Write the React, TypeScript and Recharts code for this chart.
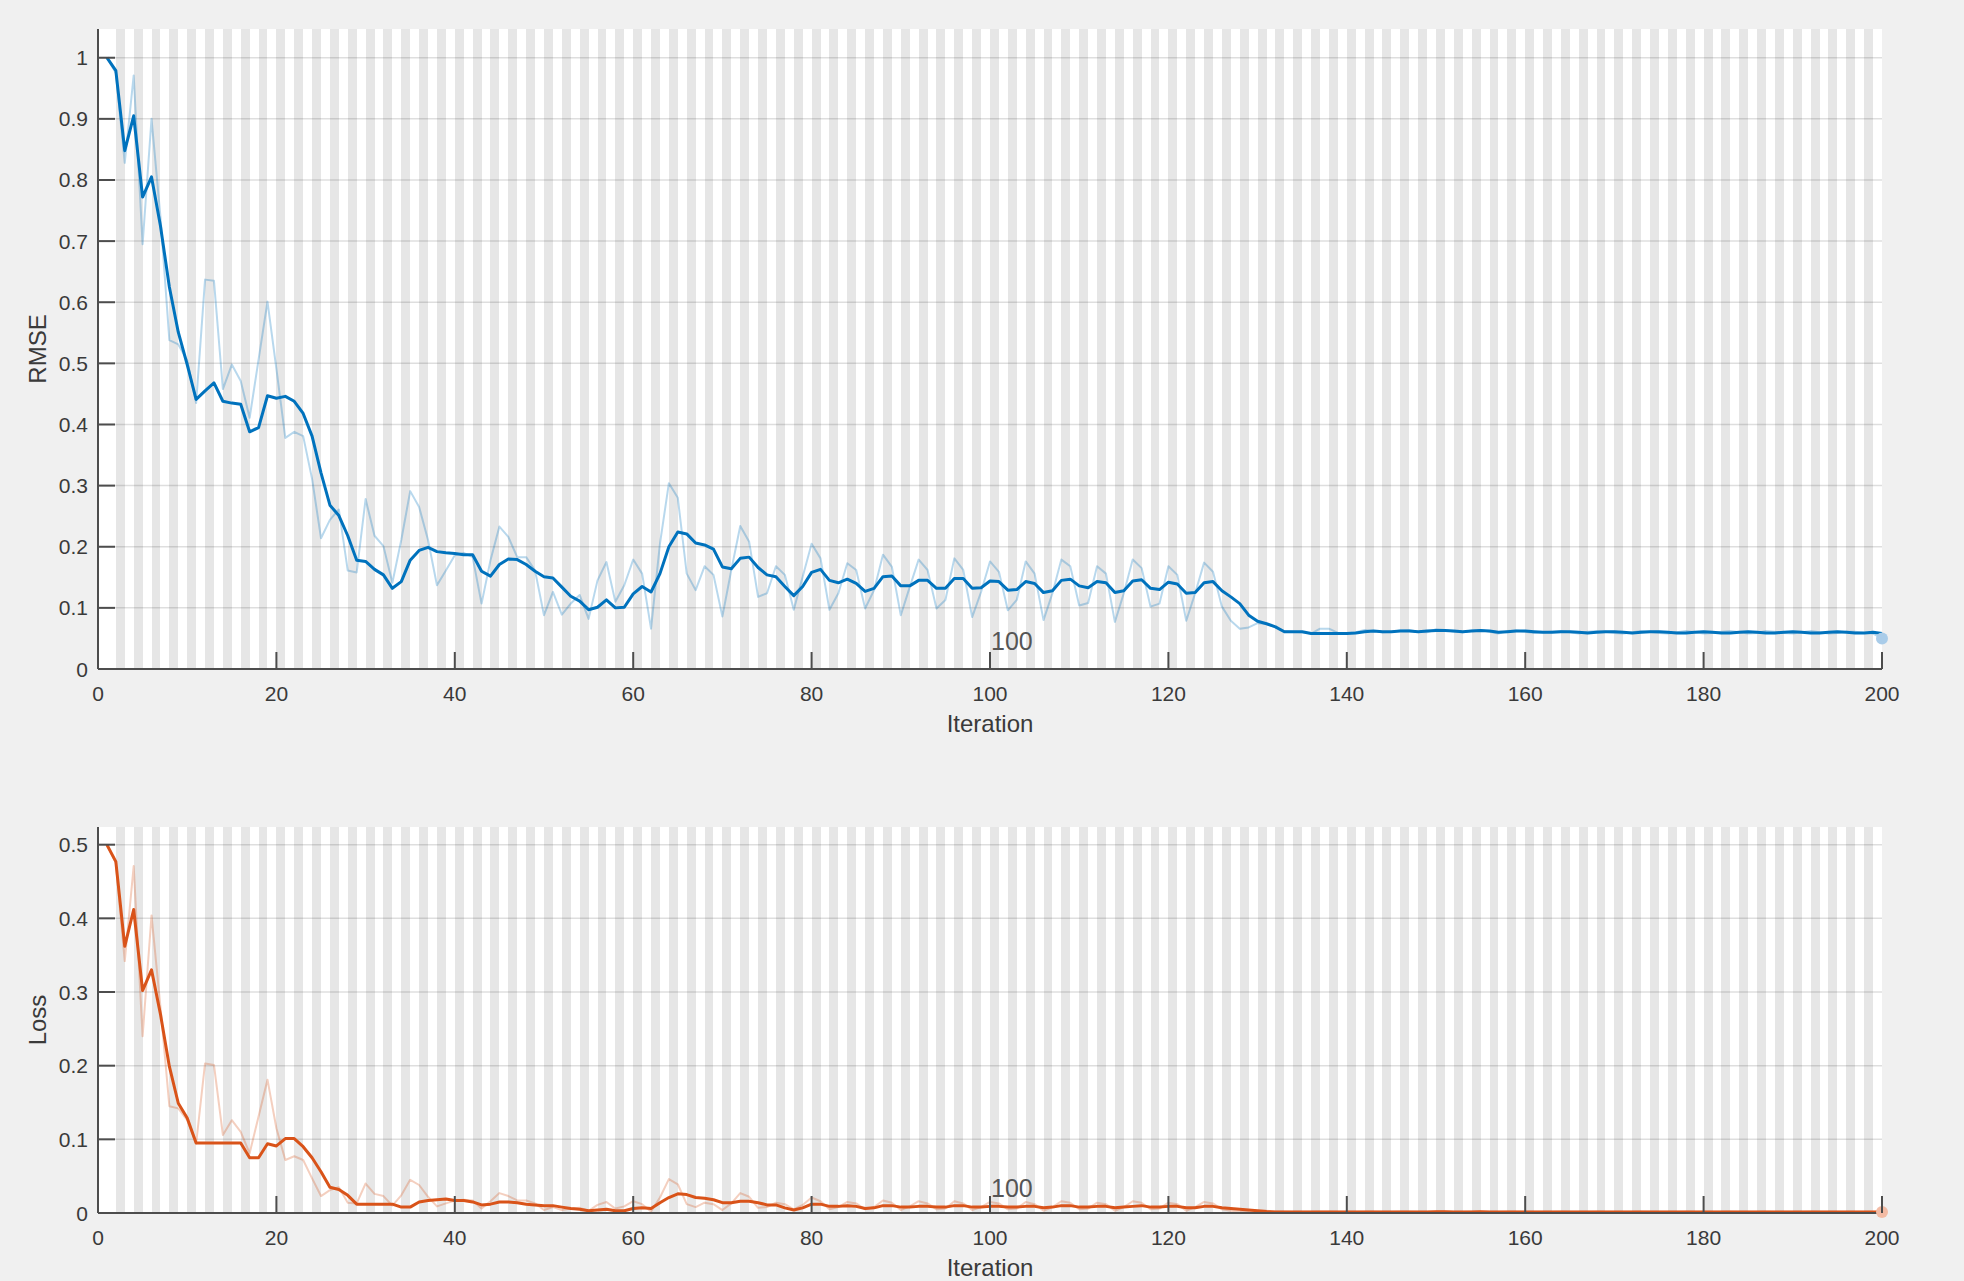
import React from "react";
import {
  LineChart,
  Line,
  XAxis,
  YAxis,
  CartesianGrid,
  ReferenceArea,
  ReferenceLine
} from "recharts";

// training progress, 200 iterations (one epoch per iteration)
const ITER_TICKS = [0, 20, 40, 60, 80, 100, 120, 140, 160, 180, 200];
const RMSE_TICKS = [0, 0.1, 0.2, 0.3, 0.4, 0.5, 0.6, 0.7, 0.8, 0.9, 1];
const LOSS_TICKS = [0, 0.1, 0.2, 0.3, 0.4, 0.5];

const rmseSmooth = [
  1.0, 0.979, 0.848, 0.905, 0.772, 0.805, 0.725, 0.625, 0.551, 0.498,
  0.441, 0.455, 0.468, 0.438, 0.435, 0.433, 0.388, 0.395, 0.447, 0.443,
  0.446, 0.438, 0.418, 0.381, 0.321, 0.268, 0.251, 0.218, 0.178, 0.176,
  0.163, 0.154, 0.132, 0.143, 0.178, 0.194, 0.199, 0.192, 0.19, 0.189,
  0.187, 0.187, 0.16, 0.152, 0.171, 0.18, 0.179, 0.171, 0.16, 0.151,
  0.149, 0.134, 0.119, 0.111, 0.097, 0.101, 0.113, 0.1, 0.101, 0.123,
  0.135, 0.126, 0.156, 0.2, 0.224, 0.221, 0.206, 0.203, 0.196, 0.167,
  0.164, 0.181, 0.183, 0.166, 0.154, 0.151, 0.135, 0.12, 0.135, 0.158,
  0.163, 0.145, 0.141, 0.147, 0.14, 0.127, 0.132, 0.151, 0.152, 0.136,
  0.136, 0.145, 0.145, 0.132, 0.132, 0.148, 0.148, 0.132, 0.133, 0.144,
  0.143, 0.129, 0.13, 0.143, 0.14, 0.125, 0.128, 0.145, 0.147, 0.136,
  0.133, 0.143, 0.141, 0.125, 0.128, 0.144, 0.146, 0.132, 0.13, 0.142,
  0.139, 0.124, 0.125, 0.141, 0.143, 0.128, 0.118, 0.107, 0.088, 0.078,
  0.074, 0.069, 0.061, 0.061, 0.061, 0.058, 0.058, 0.058, 0.058, 0.058,
  0.059, 0.061, 0.062, 0.061, 0.061, 0.062, 0.062, 0.061, 0.062, 0.063,
  0.063, 0.062, 0.061, 0.062, 0.063, 0.062, 0.06, 0.061, 0.062, 0.062,
  0.061, 0.06, 0.06, 0.061, 0.061, 0.06, 0.059, 0.06, 0.061, 0.061,
  0.06, 0.059, 0.06, 0.061, 0.061, 0.06, 0.059, 0.059, 0.06, 0.061,
  0.06, 0.059, 0.059, 0.06, 0.061, 0.06, 0.059, 0.059, 0.06, 0.061,
  0.06, 0.059, 0.059, 0.06, 0.061, 0.06, 0.059, 0.059, 0.06, 0.058
];

const rmseRaw = [
  1.0, 0.975, 0.828, 0.971, 0.695, 0.9, 0.74, 0.538, 0.531, 0.505,
  0.435, 0.637, 0.635, 0.458, 0.498, 0.471, 0.411, 0.506, 0.601, 0.491,
  0.378, 0.388, 0.381, 0.311, 0.214, 0.244, 0.261, 0.161, 0.158, 0.278,
  0.218, 0.201, 0.141, 0.211, 0.291, 0.265, 0.211, 0.137, 0.161, 0.186,
  0.19, 0.183, 0.107, 0.178, 0.233, 0.216, 0.183, 0.183, 0.161, 0.088,
  0.126, 0.089, 0.107, 0.121, 0.082, 0.145, 0.175, 0.11, 0.137, 0.179,
  0.156, 0.066, 0.205, 0.304, 0.28, 0.156, 0.129, 0.168, 0.154, 0.086,
  0.162, 0.234, 0.208, 0.118, 0.124, 0.168, 0.154, 0.097, 0.151, 0.205,
  0.181, 0.097, 0.124, 0.173, 0.162, 0.099, 0.129, 0.187, 0.167, 0.088,
  0.134, 0.179, 0.162, 0.099, 0.113, 0.181, 0.162, 0.085, 0.126, 0.176,
  0.159, 0.096, 0.113, 0.176, 0.156, 0.08, 0.124, 0.179, 0.168, 0.104,
  0.108, 0.168, 0.156, 0.077, 0.124, 0.179, 0.165, 0.102, 0.107, 0.168,
  0.154, 0.079, 0.124, 0.174, 0.159, 0.102, 0.079, 0.066, 0.068, 0.075,
  0.074, 0.068, 0.062, 0.061, 0.06, 0.058, 0.066, 0.066, 0.059, 0.058,
  0.06, 0.064, 0.062, 0.06, 0.061, 0.063, 0.064, 0.061, 0.06, 0.065,
  0.064, 0.061, 0.06, 0.063, 0.064, 0.061, 0.058, 0.062, 0.063, 0.061,
  0.059, 0.06, 0.061, 0.062, 0.06, 0.058, 0.061, 0.062, 0.061, 0.059,
  0.058, 0.06, 0.062, 0.061, 0.059, 0.058, 0.06, 0.062, 0.06, 0.058,
  0.059, 0.061, 0.062, 0.06, 0.058, 0.059, 0.062, 0.061, 0.059, 0.058,
  0.06, 0.062, 0.06, 0.058, 0.059, 0.061, 0.061, 0.059, 0.058, 0.05
];

const lossSmooth = [
  0.5, 0.477, 0.362, 0.412, 0.302, 0.33, 0.27, 0.199, 0.149, 0.129,
  0.095, 0.095, 0.095, 0.095, 0.095, 0.095, 0.075, 0.075, 0.094, 0.091,
  0.101, 0.101, 0.09, 0.075, 0.056, 0.035, 0.032, 0.024, 0.012, 0.012,
  0.012, 0.012, 0.012, 0.008, 0.008, 0.015, 0.017, 0.018, 0.019, 0.017,
  0.017, 0.015, 0.011, 0.012, 0.015, 0.015, 0.014, 0.012, 0.011, 0.01,
  0.01, 0.008, 0.006, 0.005, 0.003, 0.004, 0.005, 0.003, 0.003, 0.006,
  0.007, 0.006, 0.014, 0.021, 0.026, 0.025, 0.021, 0.02, 0.018, 0.014,
  0.014, 0.016, 0.016, 0.014, 0.011, 0.011, 0.007, 0.004, 0.007, 0.012,
  0.012, 0.009, 0.009, 0.01, 0.009, 0.006, 0.007, 0.01, 0.01, 0.008,
  0.008, 0.009, 0.009, 0.008, 0.008, 0.01, 0.01, 0.008, 0.008, 0.009,
  0.009, 0.008, 0.008, 0.009, 0.009, 0.007, 0.008, 0.01, 0.01, 0.008,
  0.008, 0.009, 0.009, 0.007, 0.008, 0.009, 0.01, 0.008, 0.008, 0.009,
  0.009, 0.007, 0.007, 0.009, 0.009, 0.007, 0.006, 0.005, 0.004, 0.003,
  0.002, 0.0015, 0.0015, 0.0014, 0.0014, 0.0013, 0.0013, 0.0013, 0.0013, 0.0013,
  0.0014, 0.0014, 0.0015, 0.0015, 0.0015, 0.0015, 0.0015, 0.0015, 0.0015, 0.0016,
  0.0016, 0.0015, 0.0015, 0.0015, 0.0016, 0.0015, 0.0015, 0.0015, 0.0015, 0.0015,
  0.0015, 0.0015, 0.0015, 0.0015, 0.0015, 0.0014, 0.0014, 0.0014, 0.0015, 0.0015,
  0.0014, 0.0014, 0.0014, 0.0015, 0.0015, 0.0014, 0.0014, 0.0014, 0.0014, 0.0015,
  0.0014, 0.0014, 0.0014, 0.0014, 0.0015, 0.0014, 0.0014, 0.0014, 0.0014, 0.0015,
  0.0014, 0.0014, 0.0014, 0.0014, 0.0015, 0.0014, 0.0014, 0.0014, 0.0014, 0.0014
];

const lossRaw = [
  0.5, 0.475, 0.342, 0.471, 0.24, 0.404, 0.28, 0.145, 0.142, 0.126,
  0.094, 0.203, 0.201, 0.106, 0.126, 0.11, 0.081, 0.131, 0.181, 0.115,
  0.072, 0.077, 0.072, 0.047, 0.023, 0.031, 0.035, 0.014, 0.013, 0.04,
  0.026, 0.023, 0.01, 0.024, 0.045, 0.038, 0.022, 0.009, 0.013, 0.017,
  0.018, 0.017, 0.006, 0.016, 0.027, 0.023, 0.017, 0.017, 0.013, 0.004,
  0.008, 0.004, 0.006, 0.007, 0.003, 0.011, 0.015, 0.006, 0.009, 0.016,
  0.012, 0.002, 0.021, 0.046, 0.039, 0.012, 0.008, 0.014, 0.012, 0.004,
  0.013, 0.027, 0.022, 0.007, 0.008, 0.014, 0.012, 0.005, 0.011, 0.021,
  0.016, 0.005, 0.008, 0.015, 0.013, 0.005, 0.008, 0.017, 0.014, 0.004,
  0.009, 0.016, 0.013, 0.005, 0.006, 0.016, 0.013, 0.004, 0.008, 0.015,
  0.013, 0.005, 0.006, 0.015, 0.012, 0.003, 0.008, 0.016, 0.014, 0.005,
  0.006, 0.014, 0.012, 0.003, 0.008, 0.016, 0.014, 0.005, 0.006, 0.014,
  0.012, 0.003, 0.008, 0.015, 0.013, 0.005, 0.003, 0.002, 0.002, 0.003,
  0.003, 0.002, 0.0019, 0.0018, 0.0018, 0.0017, 0.0022, 0.0022, 0.0017, 0.0017,
  0.0018, 0.002, 0.0019, 0.0018, 0.0018, 0.002, 0.002, 0.0018, 0.0018, 0.0021,
  0.002, 0.0018, 0.0018, 0.002, 0.002, 0.0018, 0.0017, 0.0019, 0.002, 0.0018,
  0.0017, 0.0018, 0.0018, 0.0019, 0.0018, 0.0017, 0.0018, 0.0019, 0.0018, 0.0017,
  0.0017, 0.0018, 0.0019, 0.0018, 0.0017, 0.0017, 0.0018, 0.0019, 0.0018, 0.0017,
  0.0017, 0.0018, 0.0019, 0.0018, 0.0017, 0.0017, 0.0019, 0.0018, 0.0017, 0.0017,
  0.0018, 0.0019, 0.0018, 0.0017, 0.0017, 0.0018, 0.0018, 0.0017, 0.0017, 0.0013
];

const BG = "#f0f0f0";
const STRIPE = "#e6e6e6";
const AXIS = "#4d4d4d";
const TEXT = "#3a3a3a";
const FONT = "'Liberation Sans', Arial, sans-serif";

const iterations = rmseSmooth.map((_, i) => i + 1);
// shaded band on every other iteration
const bandStarts = Array.from({ length: 99 }, (_, k) => 2 * (k + 1));

const rmseData = iterations.map((iter, i) => ({
  iter,
  raw: rmseRaw[i],
  smooth: rmseSmooth[i]
}));
const lossData = iterations.map((iter, i) => ({
  iter,
  raw: lossRaw[i],
  smooth: lossSmooth[i]
}));

function XTick(props: any) {
  const { x, y, payload } = props;
  return (
    <g>
      <line x1={x} y1={y} x2={x} y2={y - 17} stroke={AXIS} strokeWidth={2} />
      <text x={x} y={y + 32} textAnchor="middle" fill={TEXT} fontSize={21} fontFamily={FONT}>
        {payload.value}
      </text>
    </g>
  );
}

function YTick(props: any) {
  const { x, y, payload } = props;
  return (
    <g>
      <line x1={x} y1={y} x2={x + 17} y2={y} stroke={AXIS} strokeWidth={2} />
      <text x={x - 10} y={y + 7.5} textAnchor="end" fill={TEXT} fontSize={21} fontFamily={FONT}>
        {payload.value}
      </text>
    </g>
  );
}

function endDot(color: string, count: number) {
  return (props: any) => {
    const { cx, cy, index } = props;
    if (index !== count - 1) return <g key={`d${index}`} />;
    return <circle key={`d${index}`} cx={cx} cy={cy} r={6} fill={color} />;
  };
}

type PanelProps = {
  data: { iter: number; raw: number; smooth: number }[];
  top: number;
  height: number;
  margin: { top: number; right: number; bottom: number; left: number };
  yMax: number;
  yTicks: number[];
  color: string;
  light: string;
};

function Panel({ data, top, height, margin, yMax, yTicks, color, light }: PanelProps) {
  return (
    <div style={{ position: "absolute", left: 0, top, width: 1964, height }}>
      <LineChart width={1964} height={height} data={data} margin={margin}>
        <CartesianGrid fill="#ffffff" horizontal={false} vertical={false} />
        {bandStarts.map((s) => (
          <ReferenceArea
            key={s}
            x1={s}
            x2={s + 1}
            fill={STRIPE}
            fillOpacity={1}
            stroke="none"
            shapeRendering="crispEdges"
            ifOverflow="hidden"
          />
        ))}
        {yTicks
          .filter((t) => t > 0)
          .map((t) => (
            <ReferenceLine key={t} y={t} stroke="#000000" strokeOpacity={0.13} strokeWidth={1.5} />
          ))}
        <XAxis
          dataKey="iter"
          type="number"
          domain={[0, 200]}
          ticks={ITER_TICKS}
          interval={0}
          height={40}
          tickSize={0}
          tickMargin={0}
          tickLine={false}
          tick={<XTick />}
          axisLine={{ stroke: AXIS, strokeWidth: 2 }}
        />
        <YAxis
          type="number"
          domain={[0, yMax]}
          ticks={yTicks}
          interval={0}
          width={60}
          tickSize={0}
          tickMargin={0}
          tickLine={false}
          tick={<YTick />}
          axisLine={{ stroke: AXIS, strokeWidth: 2 }}
        />
        <Line
          dataKey="raw"
          type="linear"
          stroke={color}
          strokeOpacity={0.28}
          strokeWidth={2}
          strokeLinejoin="round"
          dot={endDot(light, data.length)}
          activeDot={false}
          isAnimationActive={false}
        />
        <Line
          dataKey="smooth"
          type="linear"
          stroke={color}
          strokeWidth={3}
          strokeLinejoin="round"
          dot={false}
          activeDot={false}
          isAnimationActive={false}
        />
      </LineChart>
    </div>
  );
}

export default function App() {
  return (
    <div
      style={{
        position: "absolute",
        left: 0,
        top: 0,
        width: 1964,
        height: 1281,
        background: BG,
        overflow: "hidden",
        fontFamily: FONT
      }}
    >
      <Panel
        data={rmseData}
        top={0}
        height={760}
        margin={{ top: 29, right: 82, bottom: 51, left: 38 }}
        yMax={1.047}
        yTicks={RMSE_TICKS}
        color="#0072BD"
        light="#a9cce9"
      />
      <Panel
        data={lossData}
        top={780}
        height={501}
        margin={{ top: 47, right: 82, bottom: 28, left: 38 }}
        yMax={0.524}
        yTicks={LOSS_TICKS}
        color="#D95319"
        light="#f3bba4"
      />
      <svg
        width={1964}
        height={1281}
        style={{ position: "absolute", left: 0, top: 0, pointerEvents: "none" }}
      >
        <text x={990} y={732} textAnchor="middle" fill={TEXT} fontSize={24} fontFamily={FONT}>
          Iteration
        </text>
        <text x={990} y={1276} textAnchor="middle" fill={TEXT} fontSize={24} fontFamily={FONT}>
          Iteration
        </text>
        <text
          x={46}
          y={349}
          textAnchor="middle"
          fill={TEXT}
          fontSize={24}
          fontFamily={FONT}
          transform="rotate(-90 46 349)"
        >
          RMSE
        </text>
        <text
          x={46}
          y={1020}
          textAnchor="middle"
          fill={TEXT}
          fontSize={24}
          fontFamily={FONT}
          transform="rotate(-90 46 1020)"
        >
          Loss
        </text>
        <text x={991} y={650} fill="#555555" fontSize={25} fontFamily={FONT}>
          100
        </text>
        <text x={991} y={1197} fill="#555555" fontSize={25} fontFamily={FONT}>
          100
        </text>
      </svg>
    </div>
  );
}
